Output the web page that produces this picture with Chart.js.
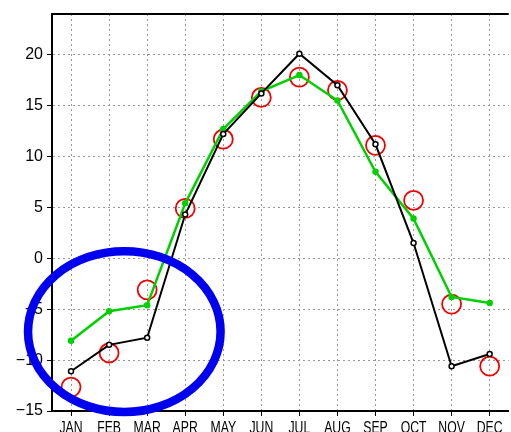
<!DOCTYPE html>
<html>
<head>
<meta charset="utf-8">
<script src="https://cdn.jsdelivr.net/npm/chart.js@4.4.1/dist/chart.umd.min.js"></script>
<style>
  html, body { margin: 0; padding: 0; overflow: hidden; background: #fff; }
  #wrap { width: 520px; height: 432px; }
</style>
</head>
<body>
<div id="wrap"><canvas id="chart" width="520" height="432"></canvas></div>
<script>
const months = ["JAN", "FEB", "MAR", "APR", "MAY", "JUN", "JUL", "AUG", "SEP", "OCT", "NOV", "DEC"];
const blackSeries = [-11.1, -8.5, -7.8, 4.3, 12.2, 16.2, 20.1, 17.0, 11.2, 1.5, -10.6, -9.4];
const greenSeries = [-8.1, -5.2, -4.6, 5.4, 12.7, 16.4, 18.0, 15.5, 8.5, 3.9, -3.8, -4.4];
const redCircles = [-12.65, -9.3, -3.1, 4.9, 11.7, 15.8, 17.8, 16.5, 11.1, 5.7, -4.5, -10.6];
const yTicks = [-15, -10, -5, 0, 5, 10, 15, 20];

// hand-drawn highlight, in chart units (month index, value)
const highlight = { cx: 1.4, cy: -7.2, rx: 2.53, ry: 7.9 };

const frame = {
  id: "frame",
  afterDraw(chart) {
    const { ctx, chartArea, scales } = chart;
    ctx.save();
    // top border
    ctx.strokeStyle = "#000";
    ctx.lineWidth = 2;
    ctx.beginPath();
    ctx.moveTo(chartArea.left - 1, chartArea.top);
    ctx.lineTo(chartArea.right, chartArea.top);
    ctx.stroke();

    // month labels, narrow like the original
    ctx.fillStyle = "#000";
    ctx.font = "17px 'Liberation Sans', Arial, sans-serif";
    ctx.textAlign = "center";
    ctx.textBaseline = "alphabetic";
    months.forEach((m, i) => {
      const x = scales.x.getPixelForTick(i);
      ctx.save();
      ctx.translate(x, chartArea.bottom + 21.5);
      ctx.scale(0.72, 1);
      ctx.fillText(m, 0, 0);
      ctx.restore();
    });

    // blue ellipse
    const x0 = scales.x.getPixelForValue(highlight.cx);
    const y0 = scales.y.getPixelForValue(highlight.cy);
    const rx = scales.x.getPixelForValue(highlight.cx + highlight.rx) - x0;
    const ry = scales.y.getPixelForValue(highlight.cy - highlight.ry) - y0;
    ctx.strokeStyle = "#0000f0";
    ctx.lineWidth = 8.5;
    ctx.beginPath();
    ctx.ellipse(x0, y0, rx, ry, 0, 0, Math.PI * 2);
    ctx.stroke();
    ctx.restore();
  }
};

new Chart(document.getElementById("chart"), {
  type: "line",
  data: {
    labels: months,
    datasets: [
      {
        data: blackSeries,
        borderColor: "#000",
        borderWidth: 2,
        pointRadius: 2.5,
        pointBackgroundColor: "#fff",
        pointBorderColor: "#000",
        pointBorderWidth: 1.5,
        tension: 0
      },
      {
        data: greenSeries,
        borderColor: "#00d000",
        borderWidth: 2.5,
        pointRadius: 2,
        pointBackgroundColor: "#00d000",
        pointBorderColor: "#00d000",
        tension: 0
      },
      {
        data: redCircles,
        showLine: false,
        pointRadius: 9.5,
        pointBackgroundColor: "rgba(0,0,0,0)",
        pointBorderColor: "#f00000",
        pointBorderWidth: 1.8
      }
    ]
  },
  options: {
    responsive: false,
    animation: false,
    layout: { padding: { top: 14, right: 0, left: 0, bottom: 0 } },
    plugins: {
      legend: { display: false },
      tooltip: { enabled: false }
    },
    scales: {
      x: {
        offset: true,
        grid: {
          offset: false,
          color: "#999",
          lineWidth: 1,
          tickColor: "#000",
          tickLength: 5,
          tickWidth: 1
        },
        border: { color: "#000", width: 2, dash: [2, 3] },
        ticks: { display: false, autoSkip: false },
        afterFit(scale) { scale.height = 21; }
      },
      y: {
        min: -15,
        max: 24,
        grid: {
          color: "#999",
          lineWidth: 1,
          tickColor: "#000",
          tickLength: 5,
          tickWidth: 1
        },
        border: { color: "#000", width: 2, dash: [2, 3] },
        ticks: {
          color: "#000",
          padding: 4,
          font: { family: "'Liberation Sans', Arial, sans-serif", size: 16 },
          callback: (v) => (v < 0 ? "\u2212" + Math.abs(v) : String(v))
        },
        afterBuildTicks(scale) {
          scale.ticks = yTicks.map((v) => ({ value: v }));
        },
        afterFit(scale) { scale.width = 52; }
      }
    }
  },
  plugins: [frame]
});
</script>
</body>
</html>
